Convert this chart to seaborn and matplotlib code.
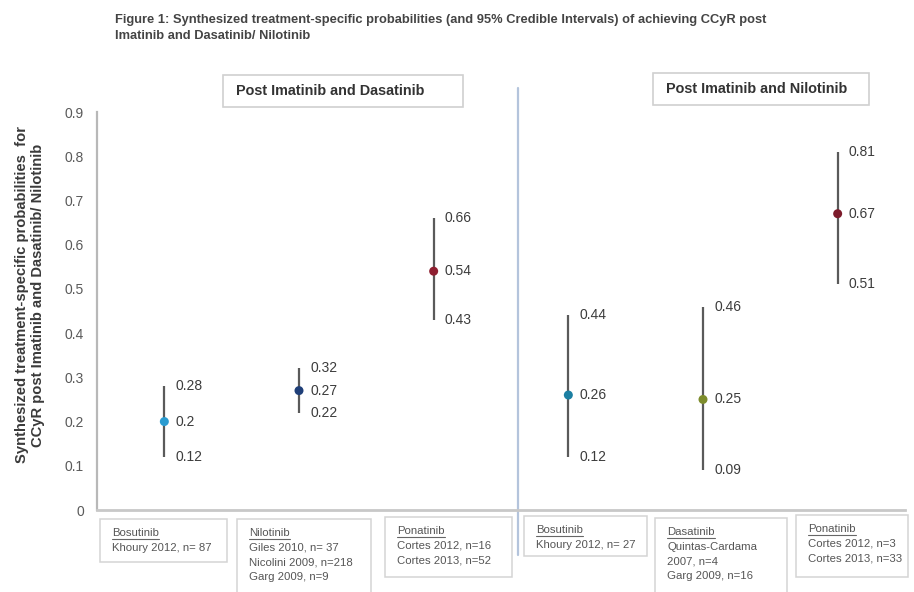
import numpy as np
import pandas as pd
import matplotlib
matplotlib.use("Agg")
import matplotlib.pyplot as plt
from matplotlib.patches import Rectangle
from matplotlib.lines import Line2D
import seaborn as sns

# ---- data -------------------------------------------------------------
treatments = ["Bosutinib", "Nilotinib", "Ponatinib", "Bosutinib", "Dasatinib", "Ponatinib"]
settings = ["Post Imatinib and Dasatinib"] * 3 + ["Post Imatinib and Nilotinib"] * 3
prob_mean = [0.20, 0.27, 0.54, 0.26, 0.25, 0.67]
prob_lower = [0.12, 0.22, 0.43, 0.12, 0.09, 0.51]
prob_upper = [0.28, 0.32, 0.66, 0.44, 0.46, 0.81]
studies = [
    ["Khoury 2012, n= 87"],
    ["Giles 2010, n= 37", "Nicolini 2009, n=218", "Garg 2009, n=9"],
    ["Cortes 2012, n=16", "Cortes 2013, n=52"],
    ["Khoury 2012, n= 27"],
    ["Quintas-Cardama", "2007, n=4", "Garg 2009, n=16"],
    ["Cortes 2012, n=3", "Cortes 2013, n=33"],
]
y_ticks = [0, 0.1, 0.2, 0.3, 0.4, 0.5, 0.6, 0.7, 0.8, 0.9]
y_tick_labels = ["0", "0.1", "0.2", "0.3", "0.4", "0.5", "0.6", "0.7", "0.8", "0.9"]
marker_colors = ["#2a9bd0", "#1f3f78", "#8e1f30", "#1c7fa2", "#7d8c2c", "#7c1b2b"]

title = ("Figure 1: Synthesized treatment-specific probabilities (and 95% Credible Intervals) "
         "of achieving CCyR post\nImatinib and Dasatinib/ Nilotinib")
ylabel = ("Synthesized treatment-specific probabilities  for\n"
          "CCyR post Imatinib and Dasatinib/ Nilotinib")

df = pd.DataFrame({
    "slot": np.arange(len(treatments)),
    "treatment": [f"{t} ({s})" for t, s in zip(treatments, settings)],
    "mean": prob_mean,
    "lower": prob_lower,
    "upper": prob_upper,
})

# ---- style ------------------------------------------------------------
sns.set_theme(style="white")
plt.rcParams["font.family"] = ["Liberation Sans", "DejaVu Sans"]

W, H = 914, 592
fig = plt.figure(figsize=(W / 100, H / 100), dpi=100)


def fx(x):
    return x / W


def fy(y):
    return 1 - y / H


ax = fig.add_axes([fx(97), fy(510), fx(905) - fx(97), fy(112) - fy(510)])

# credible-interval ranges
ax.vlines(df["slot"], df["lower"], df["upper"], color="#5a5a5a", lw=1.6, zorder=2)
# point estimates
sns.scatterplot(data=df, x="slot", y="mean", hue="treatment", palette=marker_colors,
                s=42, edgecolor="none", legend=False, ax=ax, zorder=3)

# value labels next to each interval
for _, r in df.iterrows():
    for v in (r["upper"], r["mean"], r["lower"]):
        ax.annotate(f"{v:g}", (r["slot"], v), xytext=(8, 0), textcoords="offset points",
                    ha="left", va="center", fontsize=10, color="#3c3c3c")

ax.set_xlim(-0.5, len(treatments) - 0.5)
ax.set_ylim(0, 0.9)
ax.set_yticks(y_ticks)
ax.set_yticklabels(y_tick_labels)
ax.set_xticks([])
ax.set_xlabel("")
ax.set_ylabel("")
ax.tick_params(axis="y", length=0, pad=9.5, labelsize=10, labelcolor="#5a5a5a")
for side in ("top", "right"):
    ax.spines[side].set_visible(False)
ax.spines["left"].set_color("#b8b8b8")
ax.spines["left"].set_linewidth(1.6)
ax.spines["bottom"].set_color("#c8c8c8")
ax.spines["bottom"].set_linewidth(2.0)

# divider between the two settings
ax.axvline(2.625, ymin=-0.113, ymax=1.06, color="#b4c4dc", lw=1.6, clip_on=False, zorder=1)

# y-axis title
fig.text(fx(30), fy(295), ylabel, rotation=90, ha="center", va="center",
         fontsize=10.6, fontweight="bold", color="#3a3a3a", linespacing=1.1)

# figure title
fig.text(fx(115), fy(28), title, ha="left", va="center", fontsize=9.3,
         fontweight="bold", color="#444444", linespacing=1.55)

# setting headers in boxes
headers = [("Post Imatinib and Dasatinib", 223, 75, 463, 107),
           ("Post Imatinib and Nilotinib", 653, 73, 869, 105)]
for txt, x0, y0, x1, y1 in headers:
    fig.patches.append(Rectangle((fx(x0), fy(y1)), fx(x1) - fx(x0), fy(y0) - fy(y1),
                                 transform=fig.transFigure, fill=False,
                                 edgecolor="#d0d0d0", lw=1.2))
    fig.text(fx(x0 + 13), fy((y0 + y1) / 2), txt, ha="left", va="center",
             fontsize=10.4, fontweight="bold", color="#333333")

# study boxes under the axis
boxes = [(100, 519, 227, 562), (237, 519, 371, 600), (385, 517, 512, 577),
         (524, 516, 647, 556), (655, 518, 787, 600), (796, 515, 908, 577)]
fig.canvas.draw()
renderer = fig.canvas.get_renderer()
for (x0, y0, x1, y1), name, lines in zip(boxes, treatments, studies):
    fig.patches.append(Rectangle((fx(x0), fy(y1)), fx(x1) - fx(x0), fy(y0) - fy(y1),
                                 transform=fig.transFigure, fill=False,
                                 edgecolor="#d4d4d4", lw=1.1))
    tx = x0 + 12
    ty = y0 + 14
    t = fig.text(fx(tx), fy(ty), name, ha="left", va="center", fontsize=8.2,
                 color="#555555")
    ext = t.get_window_extent(renderer)
    fig.lines.append(Line2D([fx(tx), fx(tx) + ext.width / W], [fy(ty + 6), fy(ty + 6)],
                            transform=fig.transFigure, color="#666666", lw=0.8))
    for i, line in enumerate(lines):
        fig.text(fx(tx), fy(ty + 15 + 14.5 * i), line, ha="left", va="center",
                 fontsize=8.2, color="#555555")

fig.savefig("out.png", dpi=100)
